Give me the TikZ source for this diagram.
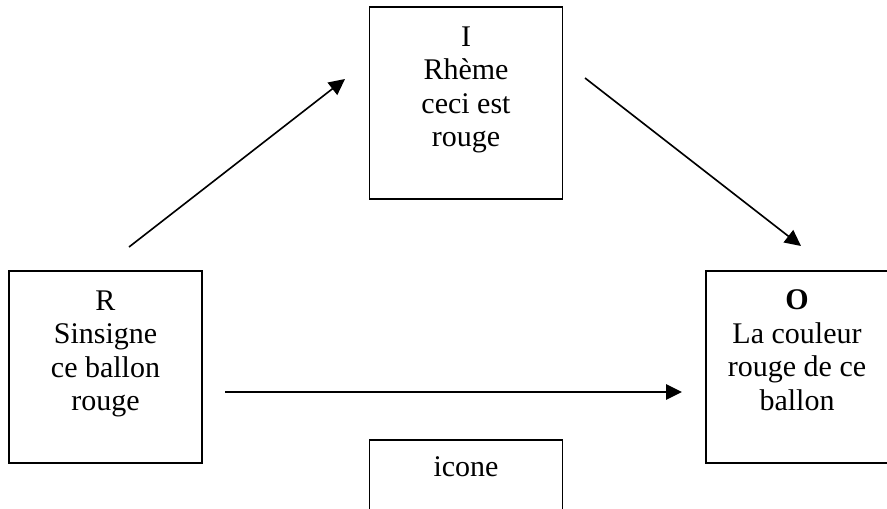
\documentclass[tikz,border=0pt]{standalone}
\usepackage{fontspec}
\setmainfont{Liberation Serif}
\usetikzlibrary{arrows.meta}
\begin{document}
\begin{tikzpicture}[x=0.4pt,y=-0.4pt,
  box/.style={draw, line width=0.75pt, rectangle, minimum width=77.2pt, minimum height=76.8pt, inner sep=0pt},
  lbl/.style={align=center, inner sep=0pt, font=\fontsize{12}{13.4}\selectfont},
  arr/.style={line width=0.65pt, -{Triangle[length=6.4pt,width=6.2pt]}}]
\clip (0,0) rectangle (887,508);
\fill[white] (0,0) rectangle (887,508);
% boxes
\node[box] (R) at (105.5,367) {};
\node[box] (I) at (466,103) {};
\node[box, minimum width=74.4pt] (O) at (799,367) {};
\node[box] (C) at (466,536) {};
% texts
\node[lbl, anchor=north] (Rt) at ([yshift=-8pt]R.north) {R\\Sinsigne\\ce ballon\\rouge};
\node[lbl, anchor=north] (It) at ([yshift=-8pt]I.north) {I\\Rhème\\ceci est\\rouge};
\node[lbl, anchor=north] (Ot) at ([xshift=-0.8pt,yshift=-7.8pt]O.north) {\textbf{O}\\La couleur\\rouge de ce\\ballon};
\node[lbl, anchor=base] (Ct) at ([yshift=-14.8pt]C.north) {icone};
% arrow end points
\coordinate (a1s) at (129,247);
\coordinate (a1e) at (345,79);
\coordinate (a2s) at (585,78);
\coordinate (a2e) at (801,246);
\coordinate (a3s) at (225,392);
\coordinate (a3e) at (682,392);
\draw[arr] (a1s) -- (a1e);
\draw[arr] (a2s) -- (a2e);
\draw[arr] (a3s) -- (a3e);
\end{tikzpicture}
\end{document}
